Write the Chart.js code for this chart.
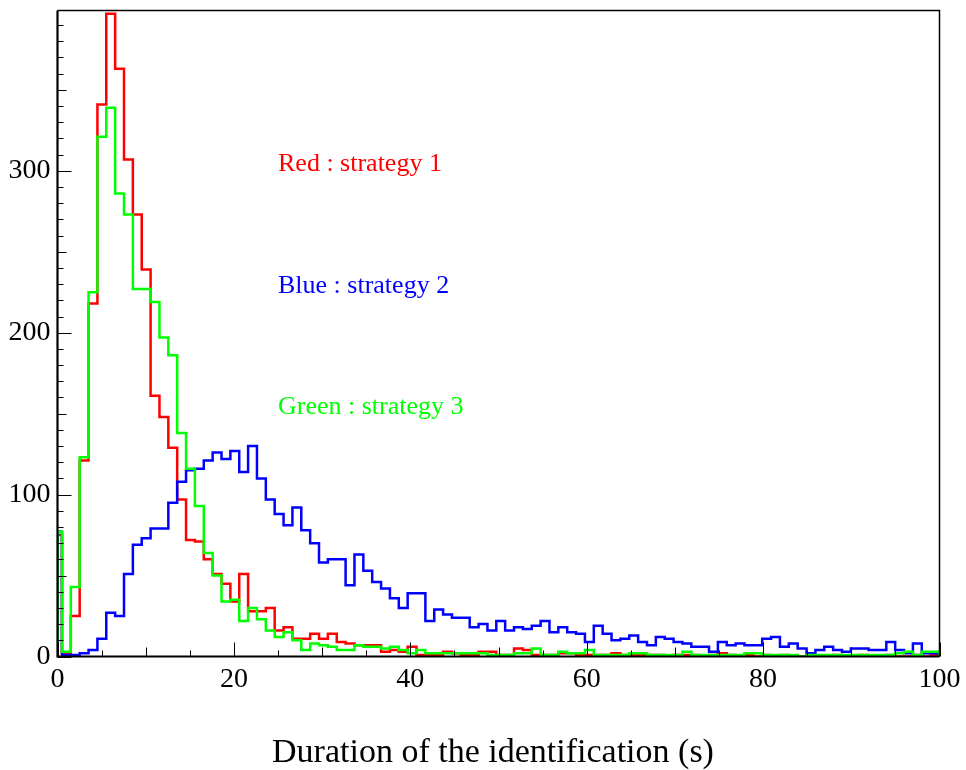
<!DOCTYPE html>
<html>
<head>
<meta charset="utf-8">
<title>Duration of the identification</title>
<script src="https://cdn.jsdelivr.net/npm/chart.js@4.4.1/dist/chart.umd.min.js"></script>
<style>
  html, body { margin: 0; padding: 0; background: #fff; }
  #wrap { width: 966px; height: 770px; }
</style>
</head>
<body>
<div id="wrap"><canvas id="histo" width="966" height="770"></canvas></div>
<script>
// --- Histogram data: 100 bins starting at -0.5 ---
const BIN_LOW = -0.5;
const BIN_WIDTH = 1.005;

const redCounts = [
    75, 2, 25, 121, 218, 341, 397, 363, 307, 273,
    239, 161, 148, 129, 97, 72, 71, 60, 51, 45,
    34, 51, 28, 28, 30, 16, 18, 11, 11, 14,
    11, 14, 9, 8, 7, 7, 7, 3, 4, 3,
    6, 1, 1, 1, 3, 2, 1, 1, 3, 3,
    1, 1, 5, 4, 1, 1, 1, 2, 2, 1,
    1, 1, 1, 2, 1, 1, 1, 1, 1, 0,
    1, 1, 1, 0, 1, 2, 1, 0, 1, 0,
    1, 0, 1, 0, 0, 1, 0, 0, 1, 0,
    0, 1, 0, 0, 1, 0, 0, 1, 0, 1
];

const blueCounts = [
    77, 1, 1, 2, 4, 11, 27, 25, 51, 69,
    73, 79, 79, 95, 108, 115, 116, 121, 126, 122,
    127, 114, 130, 110, 97, 88, 81, 92, 78, 70,
    58, 60, 60, 44, 63, 53, 46, 42, 36, 30,
    39, 39, 22, 29, 26, 24, 24, 18, 20, 16,
    22, 16, 18, 17, 19, 22, 15, 18, 15, 14,
    9, 19, 14, 10, 11, 13, 9, 7, 12, 11,
    9, 8, 6, 6, 3, 9, 7, 8, 7, 7,
    11, 12, 6, 8, 5, 2, 4, 6, 4, 3,
    5, 5, 4, 4, 9, 4, 2, 8, 2, 2
];

const greenCounts = [
    77, 3, 43, 123, 225, 321, 339, 286, 273, 227,
    227, 219, 197, 186, 138, 116, 93, 64, 50, 34,
    35, 22, 30, 23, 16, 12, 15, 10, 4, 8,
    7, 6, 4, 4, 7, 6, 6, 5, 6, 4,
    2, 4, 2, 2, 2, 2, 2, 2, 2, 1,
    1, 1, 2, 2, 5, 1, 1, 3, 2, 2,
    4, 1, 1, 1, 1, 2, 2, 1, 1, 1,
    1, 3, 1, 1, 1, 1, 1, 1, 2, 2,
    1, 1, 1, 1, 0, 1, 1, 1, 1, 1,
    1, 1, 1, 1, 1, 2, 3, 1, 3, 3
];

const xTickLabels = [0, 20, 40, 60, 80, 100];
const yTickLabels = [0, 100, 200, 300];
const noteTexts = ['Red : strategy 1', 'Blue : strategy 2', 'Green : strategy 3'];
const xTitle = 'Duration of the identification (s)';

// --- Helpers ---
const SERIF = '"Liberation Serif", "Times New Roman", serif';

// turn bin contents into step points (stepped: 'before' = horizontal first), clipped at x = 0
const toSteps = (counts) => {
    const pts = [{ x: 0, y: 0 }];
    counts.forEach((c, i) => pts.push({ x: Math.max(BIN_LOW + i * BIN_WIDTH, 0), y: c }));
    const end = BIN_LOW + counts.length * BIN_WIDTH;
    pts.push({ x: end, y: counts[counts.length - 1] });
    pts.push({ x: end, y: 0 });
    return pts;
};

const histDataset = (counts, color) => ({
    data: toSteps(counts),
    borderColor: color,
    borderWidth: 2.5,
    stepped: 'before',
    pointRadius: 0,
    fill: false,
    tension: 0,
    borderJoinStyle: 'miter'
});

// no extra label padding around the plot area
const noPad = (scale) => {
    scale.paddingTop = 0;
    scale.paddingBottom = 0;
    scale.paddingLeft = 0;
    scale.paddingRight = 0;
};

// --- Frame, inside ticks, notes and axis title ---
const rootStyle = {
    id: 'rootStyle',
    afterDatasetsDraw(chart) {
        const { ctx, chartArea: a, scales } = chart;
        ctx.save();

        // frame
        ctx.strokeStyle = '#000';
        ctx.lineWidth = 1.5;
        ctx.beginPath();
        ctx.moveTo(a.left, a.top);
        ctx.lineTo(a.right, a.top);
        ctx.lineTo(a.right, a.bottom);
        ctx.stroke();
        ctx.lineWidth = 2.2;
        ctx.beginPath();
        ctx.moveTo(a.left, a.top);
        ctx.lineTo(a.left, a.bottom);
        ctx.lineTo(a.right, a.bottom);
        ctx.stroke();

        // ticks drawn into the plot
        ctx.lineWidth = 1;
        ctx.beginPath();
        for (let v = 0; v <= scales.y.max; v += 10) {
            const len = v % 100 === 0 ? 14 : (v % 50 === 0 ? 9 : 6);
            const y = Math.round(scales.y.getPixelForValue(v)) + 0.5;
            ctx.moveTo(a.left, y);
            ctx.lineTo(a.left + len, y);
        }
        for (let v = 0; v <= scales.x.max; v += 5) {
            const len = v % 20 === 0 ? 14 : (v % 10 === 0 ? 9 : 6);
            const x = Math.round(scales.x.getPixelForValue(v)) + 0.5;
            ctx.moveTo(x, a.bottom);
            ctx.lineTo(x, a.bottom - len);
        }
        ctx.stroke();

        // strategy notes
        const noteColors = ['#ff0000', '#0000ff', '#00ff00'];
        const noteY = [304, 229, 154];
        ctx.font = '26px ' + SERIF;
        ctx.textAlign = 'left';
        ctx.textBaseline = 'middle';
        noteTexts.forEach((t, i) => {
            ctx.fillStyle = noteColors[i];
            ctx.fillText(t, scales.x.getPixelForValue(25), scales.y.getPixelForValue(noteY[i]));
        });

        // x axis title
        ctx.fillStyle = '#000';
        ctx.font = '34px ' + SERIF;
        ctx.textAlign = 'center';
        ctx.textBaseline = 'alphabetic';
        ctx.fillText(xTitle, 493, 762);

        ctx.restore();
    }
};

// --- Chart ---
const ctx = document.getElementById('histo').getContext('2d');
new Chart(ctx, {
    type: 'line',
    data: {
        datasets: [
            histDataset(greenCounts, '#00ff00'),
            histDataset(blueCounts, '#0000ff'),
            histDataset(redCounts, '#ff0000')
        ]
    },
    options: {
        responsive: false,
        animation: false,
        devicePixelRatio: 1,
        layout: { padding: { top: 10.5, right: 26.5, left: 0, bottom: 0 } },
        plugins: { legend: { display: false }, tooltip: { enabled: false } },
        scales: {
            x: {
                type: 'linear',
                min: 0,
                max: 100,
                grid: { display: false, drawTicks: false },
                border: { display: false },
                afterFit: (scale) => { scale.height = 113.5; noPad(scale); },
                afterBuildTicks: (scale) => { scale.ticks = xTickLabels.map(value => ({ value })); },
                ticks: {
                    padding: 6,
                    color: '#000',
                    maxRotation: 0,
                    autoSkip: false,
                    font: { family: SERIF, size: 28 }
                }
            },
            y: {
                min: 0,
                max: 399,
                grid: { display: false, drawTicks: false },
                border: { display: false },
                afterFit: (scale) => { scale.width = 57.5; noPad(scale); },
                afterBuildTicks: (scale) => { scale.ticks = yTickLabels.map(value => ({ value })); },
                ticks: {
                    padding: 7,
                    color: '#000',
                    font: { family: SERIF, size: 28 }
                }
            }
        }
    },
    plugins: [rootStyle]
});
</script>
</body>
</html>
